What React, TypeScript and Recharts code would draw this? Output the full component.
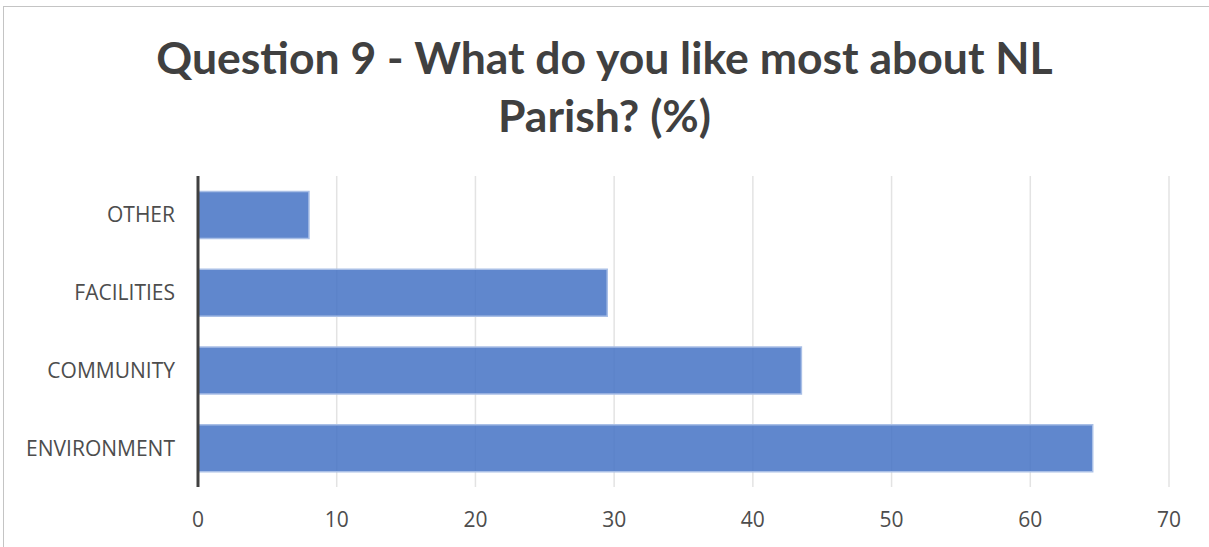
import React from 'react';
import { BarChart, Bar, XAxis, YAxis, CartesianGrid } from 'recharts';

const categories = ['OTHER', 'FACILITIES', 'COMMUNITY', 'ENVIRONMENT'];
const values = [8, 29.5, 43.5, 64.5];
const xTicks = [0, 10, 20, 30, 40, 50, 60, 70];
const titleLines = ['Question 9 - What do you like most about NL', 'Parish? (%)'];

const data = categories.map((c, i) => ({ name: c, value: values[i] }));

export default function App() {
  return (
    <div style={{ position: 'absolute', left: 0, top: 0, width: 1209, height: 547, overflow: 'hidden', background: '#fff' }}>
      <div style={{ position: 'absolute', left: 3, top: 6, width: 1220, height: 560, border: '1.5px solid #c4c4c4', boxSizing: 'border-box' }} />
      <div style={{ position: 'absolute', left: 0, top: 28, width: 1209, textAlign: 'center', fontFamily: 'Lato, "Open Sans", sans-serif', fontWeight: 700, fontSize: 44.5, color: '#404040', lineHeight: '58px' }}>
        {titleLines.map((t, i) => (<div key={i}>{t}</div>))}
      </div>
      <div style={{ position: 'absolute', left: 0, top: 0 }}>
        <BarChart width={1209} height={547} data={data} layout="vertical" margin={{ top: 176, right: 40, bottom: 20, left: 0 }} barCategoryGap="20%">
          <CartesianGrid horizontal={false} vertical={true} stroke="#e3e3e3" strokeWidth={1.5} />
          <XAxis type="number" domain={[0, 70]} ticks={xTicks} axisLine={false} tickLine={false} height={40} tickMargin={19}
            tick={{ fill: '#4d4d4d', fontSize: 21, fontFamily: '"Open Sans", sans-serif' }} />
          <YAxis type="category" dataKey="name" width={198} axisLine={{ stroke: '#404040', strokeWidth: 3 }} tickLine={false} tickMargin={17}
            tick={{ fill: '#4d4d4d', fontSize: 21, fontFamily: '"Open Sans", sans-serif' }} />
          <Bar dataKey="value" fill="#4472C4" fillOpacity={0.85} stroke="#a9bfe6" strokeWidth={1.5} isAnimationActive={false} />
        </BarChart>
      </div>
    </div>
  );
}
